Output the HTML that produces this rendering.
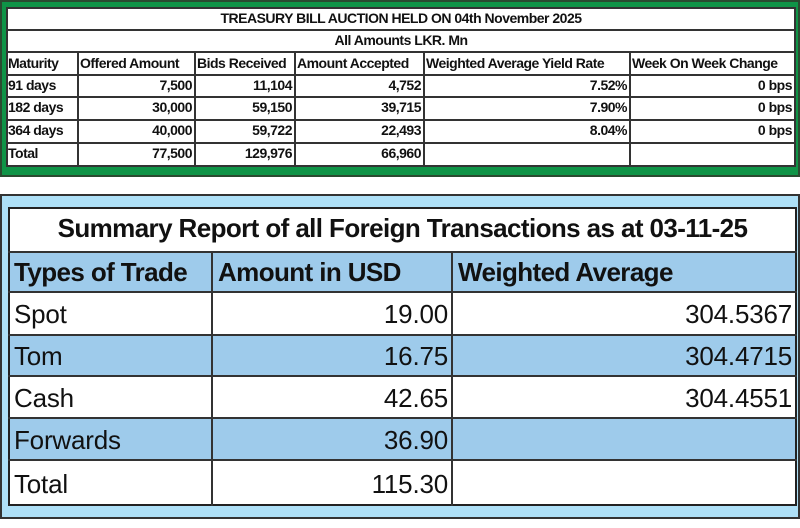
<!DOCTYPE html>
<html><head><style>
*{margin:0;padding:0;box-sizing:border-box}
body{width:800px;height:528px;background:#fff;position:relative;overflow:hidden;font-family:"Liberation Sans",sans-serif}
.a{position:absolute}
.t{font-weight:bold;font-size:14px;letter-spacing:-0.5px;color:#111;white-space:nowrap;line-height:22.5px}
.b{font-size:26px;color:#111;white-space:nowrap;letter-spacing:-0.2px}
.hl{position:absolute;height:2px;background:#333}
.vl{position:absolute;width:2px;background:#333}
</style></head><body>
<div class="a" style="left:0;top:0;width:800px;height:177px;background:#0f9447;border:2px solid #2a4a30"></div>
<div class="a" style="left:6px;top:7px;width:790px;height:160px;background:#fff;border:2px solid #333"></div>
<div class="hl" style="left:6px;width:790px;top:29px"></div>
<div class="hl" style="left:6px;width:790px;top:51px"></div>
<div class="hl" style="left:6px;width:790px;top:74px"></div>
<div class="hl" style="left:6px;width:790px;top:96px"></div>
<div class="hl" style="left:6px;width:790px;top:119px"></div>
<div class="hl" style="left:6px;width:790px;top:142px"></div>
<div class="vl" style="top:51px;height:116px;left:77px"></div>
<div class="vl" style="top:51px;height:116px;left:194px"></div>
<div class="vl" style="top:51px;height:116px;left:294px"></div>
<div class="vl" style="top:51px;height:116px;left:423px"></div>
<div class="vl" style="top:51px;height:116px;left:629px"></div>
<div class="a t" style="left:6px;width:790px;top:7px;text-align:center">TREASURY BILL AUCTION HELD ON 04th November 2025</div>
<div class="a t" style="left:6px;width:790px;top:29px;text-align:center">All Amounts LKR. Mn</div>
<div class="a t" style="left:8px;top:52px">Maturity</div>
<div class="a t" style="left:80px;top:52px">Offered Amount</div>
<div class="a t" style="left:197px;top:52px">Bids Received</div>
<div class="a t" style="left:297px;top:52px">Amount Accepted</div>
<div class="a t" style="left:426px;top:52px">Weighted Average Yield Rate</div>
<div class="a t" style="left:632px;top:52px">Week On Week Change</div>
<div class="a t" style="left:8px;top:74px">91 days</div>
<div class="a t" style="left:8px;top:96px">182 days</div>
<div class="a t" style="left:8px;top:119px">364 days</div>
<div class="a t" style="left:8px;top:142px">Total</div>
<div class="a t" style="left:80px;width:112px;top:74px;text-align:right">7,500</div>
<div class="a t" style="left:80px;width:112px;top:96px;text-align:right">30,000</div>
<div class="a t" style="left:80px;width:112px;top:119px;text-align:right">40,000</div>
<div class="a t" style="left:80px;width:112px;top:142px;text-align:right">77,500</div>
<div class="a t" style="left:197px;width:95px;top:74px;text-align:right">11,104</div>
<div class="a t" style="left:197px;width:95px;top:96px;text-align:right">59,150</div>
<div class="a t" style="left:197px;width:95px;top:119px;text-align:right">59,722</div>
<div class="a t" style="left:197px;width:95px;top:142px;text-align:right">129,976</div>
<div class="a t" style="left:297px;width:124px;top:74px;text-align:right">4,752</div>
<div class="a t" style="left:297px;width:124px;top:96px;text-align:right">39,715</div>
<div class="a t" style="left:297px;width:124px;top:119px;text-align:right">22,493</div>
<div class="a t" style="left:297px;width:124px;top:142px;text-align:right">66,960</div>
<div class="a t" style="left:426px;width:201px;top:74px;text-align:right">7.52%</div>
<div class="a t" style="left:426px;width:201px;top:96px;text-align:right">7.90%</div>
<div class="a t" style="left:426px;width:201px;top:119px;text-align:right">8.04%</div>
<div class="a t" style="left:632px;width:160px;top:74px;text-align:right">0 bps</div>
<div class="a t" style="left:632px;width:160px;top:96px;text-align:right">0 bps</div>
<div class="a t" style="left:632px;width:160px;top:119px;text-align:right">0 bps</div>

<div class="a" style="left:0;top:194px;width:800px;height:325px;background:#aee0f7;border:2px solid #333"></div>
<div class="a" style="left:8px;top:207px;width:789px;height:299px;background:#fff;border:2px solid #222"></div>
<div class="a" style="left:10px;top:252px;width:785px;height:40px;background:#9ecbeb"></div>
<div class="a" style="left:10px;top:335px;width:785px;height:41px;background:#9ecbeb"></div>
<div class="a" style="left:10px;top:418px;width:785px;height:42px;background:#9ecbeb"></div>
<div class="hl" style="left:8px;width:789px;top:251px"></div>
<div class="hl" style="left:8px;width:789px;top:291px"></div>
<div class="hl" style="left:8px;width:789px;top:334px"></div>
<div class="hl" style="left:8px;width:789px;top:375px"></div>
<div class="hl" style="left:8px;width:789px;top:417px"></div>
<div class="hl" style="left:8px;width:789px;top:459px"></div>
<div class="vl" style="top:251px;height:255px;left:211px"></div>
<div class="vl" style="top:251px;height:255px;left:451px"></div>
<div class="a b" style="left:8px;width:789px;top:213px;text-align:center;font-size:26px;font-weight:bold;letter-spacing:-0.6px">Summary Report of all Foreign Transactions as at 03-11-25</div>
<div class="a b" style="left:14px;top:257px;font-weight:bold;letter-spacing:-0.6px">Types of Trade</div>
<div class="a b" style="left:218px;top:257px;font-weight:bold;letter-spacing:-0.6px">Amount in USD</div>
<div class="a b" style="left:458px;top:257px;font-weight:bold;letter-spacing:-0.6px">Weighted Average</div>
<div class="a b" style="left:14px;top:299px">Spot</div>
<div class="a b" style="left:14px;top:341px">Tom</div>
<div class="a b" style="left:14px;top:383px">Cash</div>
<div class="a b" style="left:14px;top:425px">Forwards</div>
<div class="a b" style="left:14px;top:469px">Total</div>
<div class="a b" style="left:212px;width:236px;top:299px;text-align:right">19.00</div>
<div class="a b" style="left:212px;width:236px;top:341px;text-align:right">16.75</div>
<div class="a b" style="left:212px;width:236px;top:383px;text-align:right">42.65</div>
<div class="a b" style="left:212px;width:236px;top:425px;text-align:right">36.90</div>
<div class="a b" style="left:212px;width:236px;top:469px;text-align:right">115.30</div>
<div class="a b" style="left:452px;width:340px;top:299px;text-align:right">304.5367</div>
<div class="a b" style="left:452px;width:340px;top:341px;text-align:right">304.4715</div>
<div class="a b" style="left:452px;width:340px;top:383px;text-align:right">304.4551</div>
</body></html>
